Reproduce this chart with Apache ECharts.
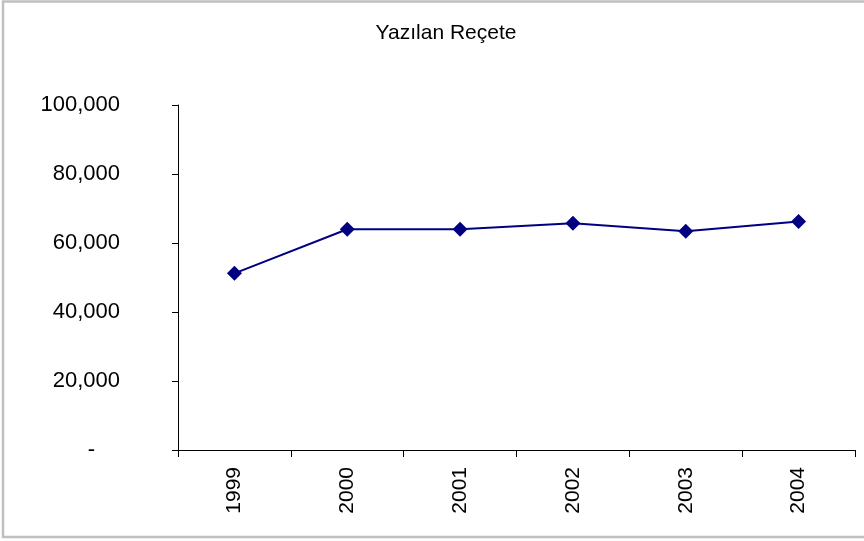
<!DOCTYPE html>
<html>
<head>
<meta charset="utf-8">
<script src="https://cdn.jsdelivr.net/npm/echarts@6/dist/echarts.min.js"></script>
<style>
  html, body { margin: 0; padding: 0; background: #fff; }
  #chart { width: 864px; height: 541px; }
</style>
</head>
<body>
<div id="chart"></div>
<script>
const years = ['1999', '2000', '2001', '2002', '2003', '2004'];
const prescriptions = [51200, 64000, 64000, 65700, 63400, 66200];
const yTicks = [0, 20000, 40000, 60000, 80000, 100000];

const chart = echarts.init(document.getElementById('chart'));

const fmt = (v) => {
    if (v === 0) return '{dash|-}';
    return String(v).replace(/\B(?=(\d{3})+(?!\d))/g, ',');
};

const option = {
    animation: false,
    textStyle: { fontFamily: 'Liberation Sans, Arial, sans-serif' },
    title: {
        text: 'Yazılan Reçete',
        left: 441,
        top: 18,
        textAlign: 'center',
        textStyle: {
            fontFamily: 'Liberation Sans, Arial, sans-serif',
            fontSize: 21,
            fontWeight: 'normal',
            color: '#000'
        }
    },
    graphic: [{
        type: 'rect',
        shape: { x: 3, y: 1.5, width: 880, height: 535.5 },
        style: { fill: null, stroke: '#c0c0c0', lineWidth: 2.5 },
        silent: true
    }],
    grid: {
        left: 178,
        right: 9,
        top: 105,
        bottom: 91,
        containLabel: false
    },
    xAxis: {
        type: 'category',
        data: years,
        boundaryGap: true,
        axisLine: { lineStyle: { color: '#000', width: 1 } },
        axisTick: { show: true, length: 7, lineStyle: { color: '#000' } },
        axisLabel: {
            rotate: 90,
            margin: 17,
            fontSize: 21,
            color: '#000',
            fontFamily: 'Liberation Sans, Arial, sans-serif'
        },
        splitLine: { show: false }
    },
    yAxis: {
        type: 'value',
        min: yTicks[0],
        max: yTicks[yTicks.length - 1],
        interval: 20000,
        axisLine: { show: true, lineStyle: { color: '#000', width: 1 } },
        axisTick: { show: true, length: 6, lineStyle: { color: '#000' } },
        axisLabel: {
            margin: 58,
            fontSize: 22,
            color: '#000',
            fontFamily: 'Liberation Sans, Arial, sans-serif',
            formatter: fmt,
            rich: {
                dash: { fontSize: 22, color: '#000', padding: [0, 25, 0, 0] }
            }
        },
        splitLine: { show: false }
    },
    series: [{
        name: 'Yazılan Reçete',
        type: 'line',
        data: prescriptions,
        symbol: 'diamond',
        symbolSize: 15,
        itemStyle: { color: '#000080' },
        lineStyle: { color: '#000080', width: 2 }
    }]
};

chart.setOption(option);
</script>
</body>
</html>
